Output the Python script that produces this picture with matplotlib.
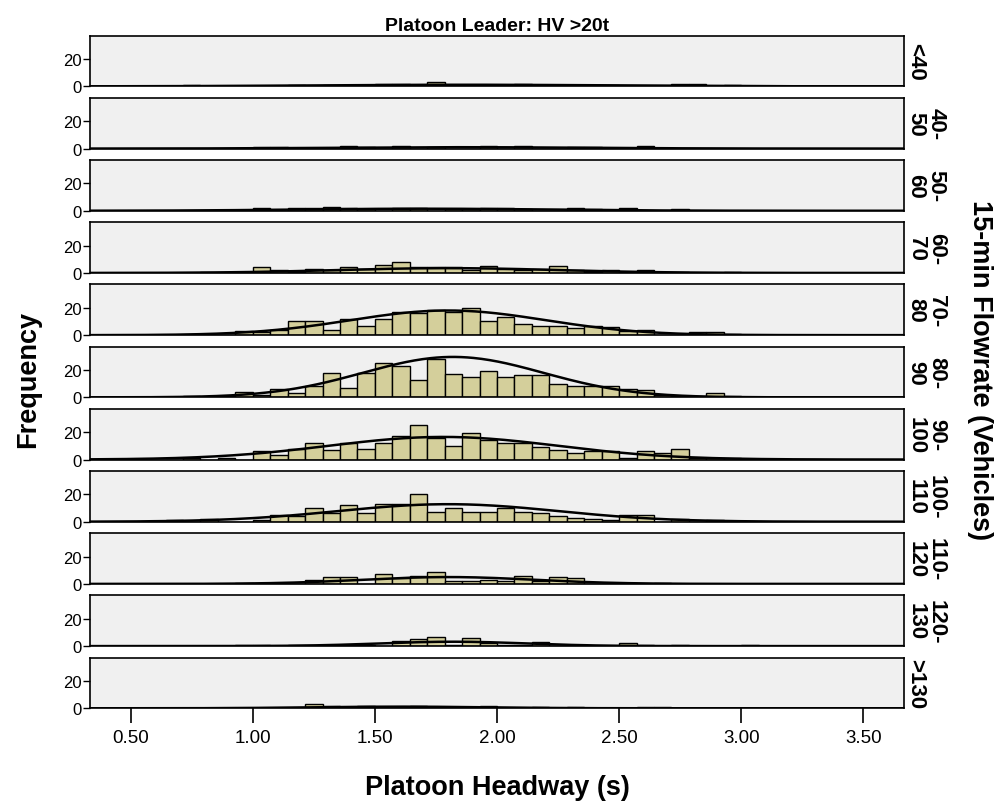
import numpy as np
import matplotlib.pyplot as plt

plt.rcParams['font.family'] = ['Liberation Sans', 'DejaVu Sans']

# histogram bins: width 1/14 s, from 9/14 to 43/14
bin_edges = np.arange(9, 44) / 14

flow_labels = ['<40', '40-\n50', '50-\n60', '60-\n70', '70-\n80', '80-\n90',
               '90-\n100', '100-\n110', '110-\n120', '120-\n130', '>130']

# counts per bin (bins 9..42)
lt40 = [0, 1, 0, 0, 0, 0, 0, 1, 0, 1, 0, 0, 2, 2, 0, 3, 0, 1, 0, 1,
        2, 0, 0, 1, 1, 1, 0, 0, 0, 2, 2, 0, 1, 0]
f40_50 = [0, 0, 0, 0, 0, 1, 1, 0, 0, 0, 2, 1, 0, 2, 0, 1, 0, 0, 2, 0,
          2, 0, 0, 1, 1, 0, 0, 2, 0, 0, 0, 0, 0, 0]
f50_60 = [0, 0, 0, 0, 0, 2, 0, 2, 2, 3, 2, 1, 0, 2, 2, 0, 1, 1, 2, 2,
          1, 0, 0, 2, 1, 0, 2, 0, 0, 1, 0, 0, 0, 0]
f60_70 = [0, 0, 1, 1, 0, 4, 2, 1, 3, 2, 4, 3, 6, 8, 4, 4, 4, 2, 5, 3,
          2, 3, 5, 2, 1, 2, 1, 2, 1, 1, 0, 0, 1, 0]
f70_80 = [0, 0, 0, 0, 3, 2, 4, 10, 10, 4, 12, 7, 12, 17, 16, 18, 17, 20, 10, 13,
          8, 7, 7, 5, 7, 6, 3, 4, 0, 0, 2, 2, 1, 0]
f80_90 = [0, 1, 0, 1, 4, 2, 6, 3, 8, 18, 7, 18, 25, 23, 13, 28, 17, 15, 19, 15,
          16, 16, 10, 8, 8, 8, 6, 5, 2, 1, 0, 3, 1, 0]
f90_100 = [0, 1, 0, 1, 0, 6, 3, 8, 12, 7, 12, 8, 12, 17, 25, 16, 10, 19, 14, 12,
           12, 9, 7, 5, 6, 6, 1, 6, 5, 8, 1, 1, 1, 0]
f100_110 = [1, 0, 2, 0, 0, 1, 5, 4, 10, 6, 12, 6, 13, 13, 20, 7, 10, 7, 7, 10,
            7, 6, 4, 3, 2, 1, 5, 5, 0, 2, 0, 1, 0, 0]
f110_120 = [0, 0, 0, 0, 1, 0, 0, 0, 3, 5, 5, 0, 7, 4, 6, 9, 2, 2, 3, 2,
            6, 2, 5, 4, 0, 0, 1, 0, 1, 0, 0, 0, 0, 0]
f120_130 = [0, 0, 0, 0, 1, 1, 0, 1, 1, 0, 1, 1, 0, 4, 5, 7, 1, 6, 2, 1,
            1, 3, 0, 0, 0, 0, 2, 1, 0, 1, 0, 0, 0, 1]
gt130 = [0, 0, 0, 0, 0, 0, 0, 0, 3, 2, 0, 2, 0, 0, 2, 0, 1, 0, 2, 0,
         0, 1, 0, 1, 0, 0, 0, 1, 1, 0, 0, 0, 0, 0]

panels = [lt40, f40_50, f50_60, f60_70, f70_80, f80_90,
          f90_100, f100_110, f110_120, f120_130, gt130]

# fitted normal curves as drawn in the chart (peak height, mean, sd)
curve_peak = [1.2, 1.0, 1.5, 3.5, 18.0, 29.5, 16.5, 12.8, 5.0, 3.2, 1.2]
curve_mean = [1.85, 1.85, 1.70, 1.80, 1.80, 1.82, 1.78, 1.80, 1.80, 1.82, 1.60]
curve_sd = [0.60, 0.50, 0.50, 0.45, 0.40, 0.37, 0.47, 0.45, 0.35, 0.30, 0.35]

x_ticks = [0.5, 1.0, 1.5, 2.0, 2.5, 3.0, 3.5]

bar_color = '#D4CF9B'
panel_bg = '#F0F0F0'

fig, axes = plt.subplots(11, 1, figsize=(9.98, 8.03), dpi=100, sharex=True)
fig.subplots_adjust(left=0.0902, right=0.9058, top=0.9543, bottom=0.1167, hspace=0.227)

centers = (bin_edges[:-1] + bin_edges[1:]) / 2
widths = np.diff(bin_edges)
xs = np.linspace(1 / 3, 11 / 3, 400)

for k, ax in enumerate(axes):
    ax.set_facecolor(panel_bg)
    ax.bar(centers, panels[k], width=widths, color=bar_color, edgecolor='black', linewidth=1.0, zorder=2)

    curve = curve_peak[k] * np.exp(-0.5 * ((xs - curve_mean[k]) / curve_sd[k]) ** 2)
    ax.plot(xs, curve, color='black', linewidth=1.8, zorder=3)

    ax.set_xlim(1 / 3, 11 / 3)
    ax.set_ylim(0, 37)
    ax.set_yticks([0, 20])
    ax.tick_params(axis='y', direction='out', length=5, width=1, labelsize=12, pad=1)
    ax.tick_params(axis='x', bottom=False, labelbottom=False)
    for s in ax.spines.values():
        s.set_linewidth(1.2)
        s.set_color('black')
    ax.text(1.002, 0.5, flow_labels[k], transform=ax.transAxes, rotation=-90, ha='left', va='center',
            multialignment='center', fontsize=16, fontweight='bold', linespacing=0.95)

bottom = axes[-1]
bottom.set_xticks(x_ticks)
bottom.set_xticklabels([f'{t:.2f}' for t in x_ticks])
bottom.tick_params(axis='x', bottom=True, labelbottom=True, direction='out', length=11,
                   width=1.2, labelsize=13.5, pad=4)

axes[0].set_title('Platoon Leader: HV >20t', fontsize=14, fontweight='bold', pad=4)

fig.text(0.028, 0.527, 'Frequency', rotation=90, ha='center', va='center', fontsize=19.5, fontweight='bold')
fig.text(0.498, 0.019, 'Platoon Headway (s)', ha='center', va='center', fontsize=19.5, fontweight='bold')
fig.text(0.982, 0.539, '15-min Flowrate (Vehicles)', rotation=-90, ha='center', va='center',
         fontsize=19.5, fontweight='bold')

fig.savefig('out.png', dpi=100)
